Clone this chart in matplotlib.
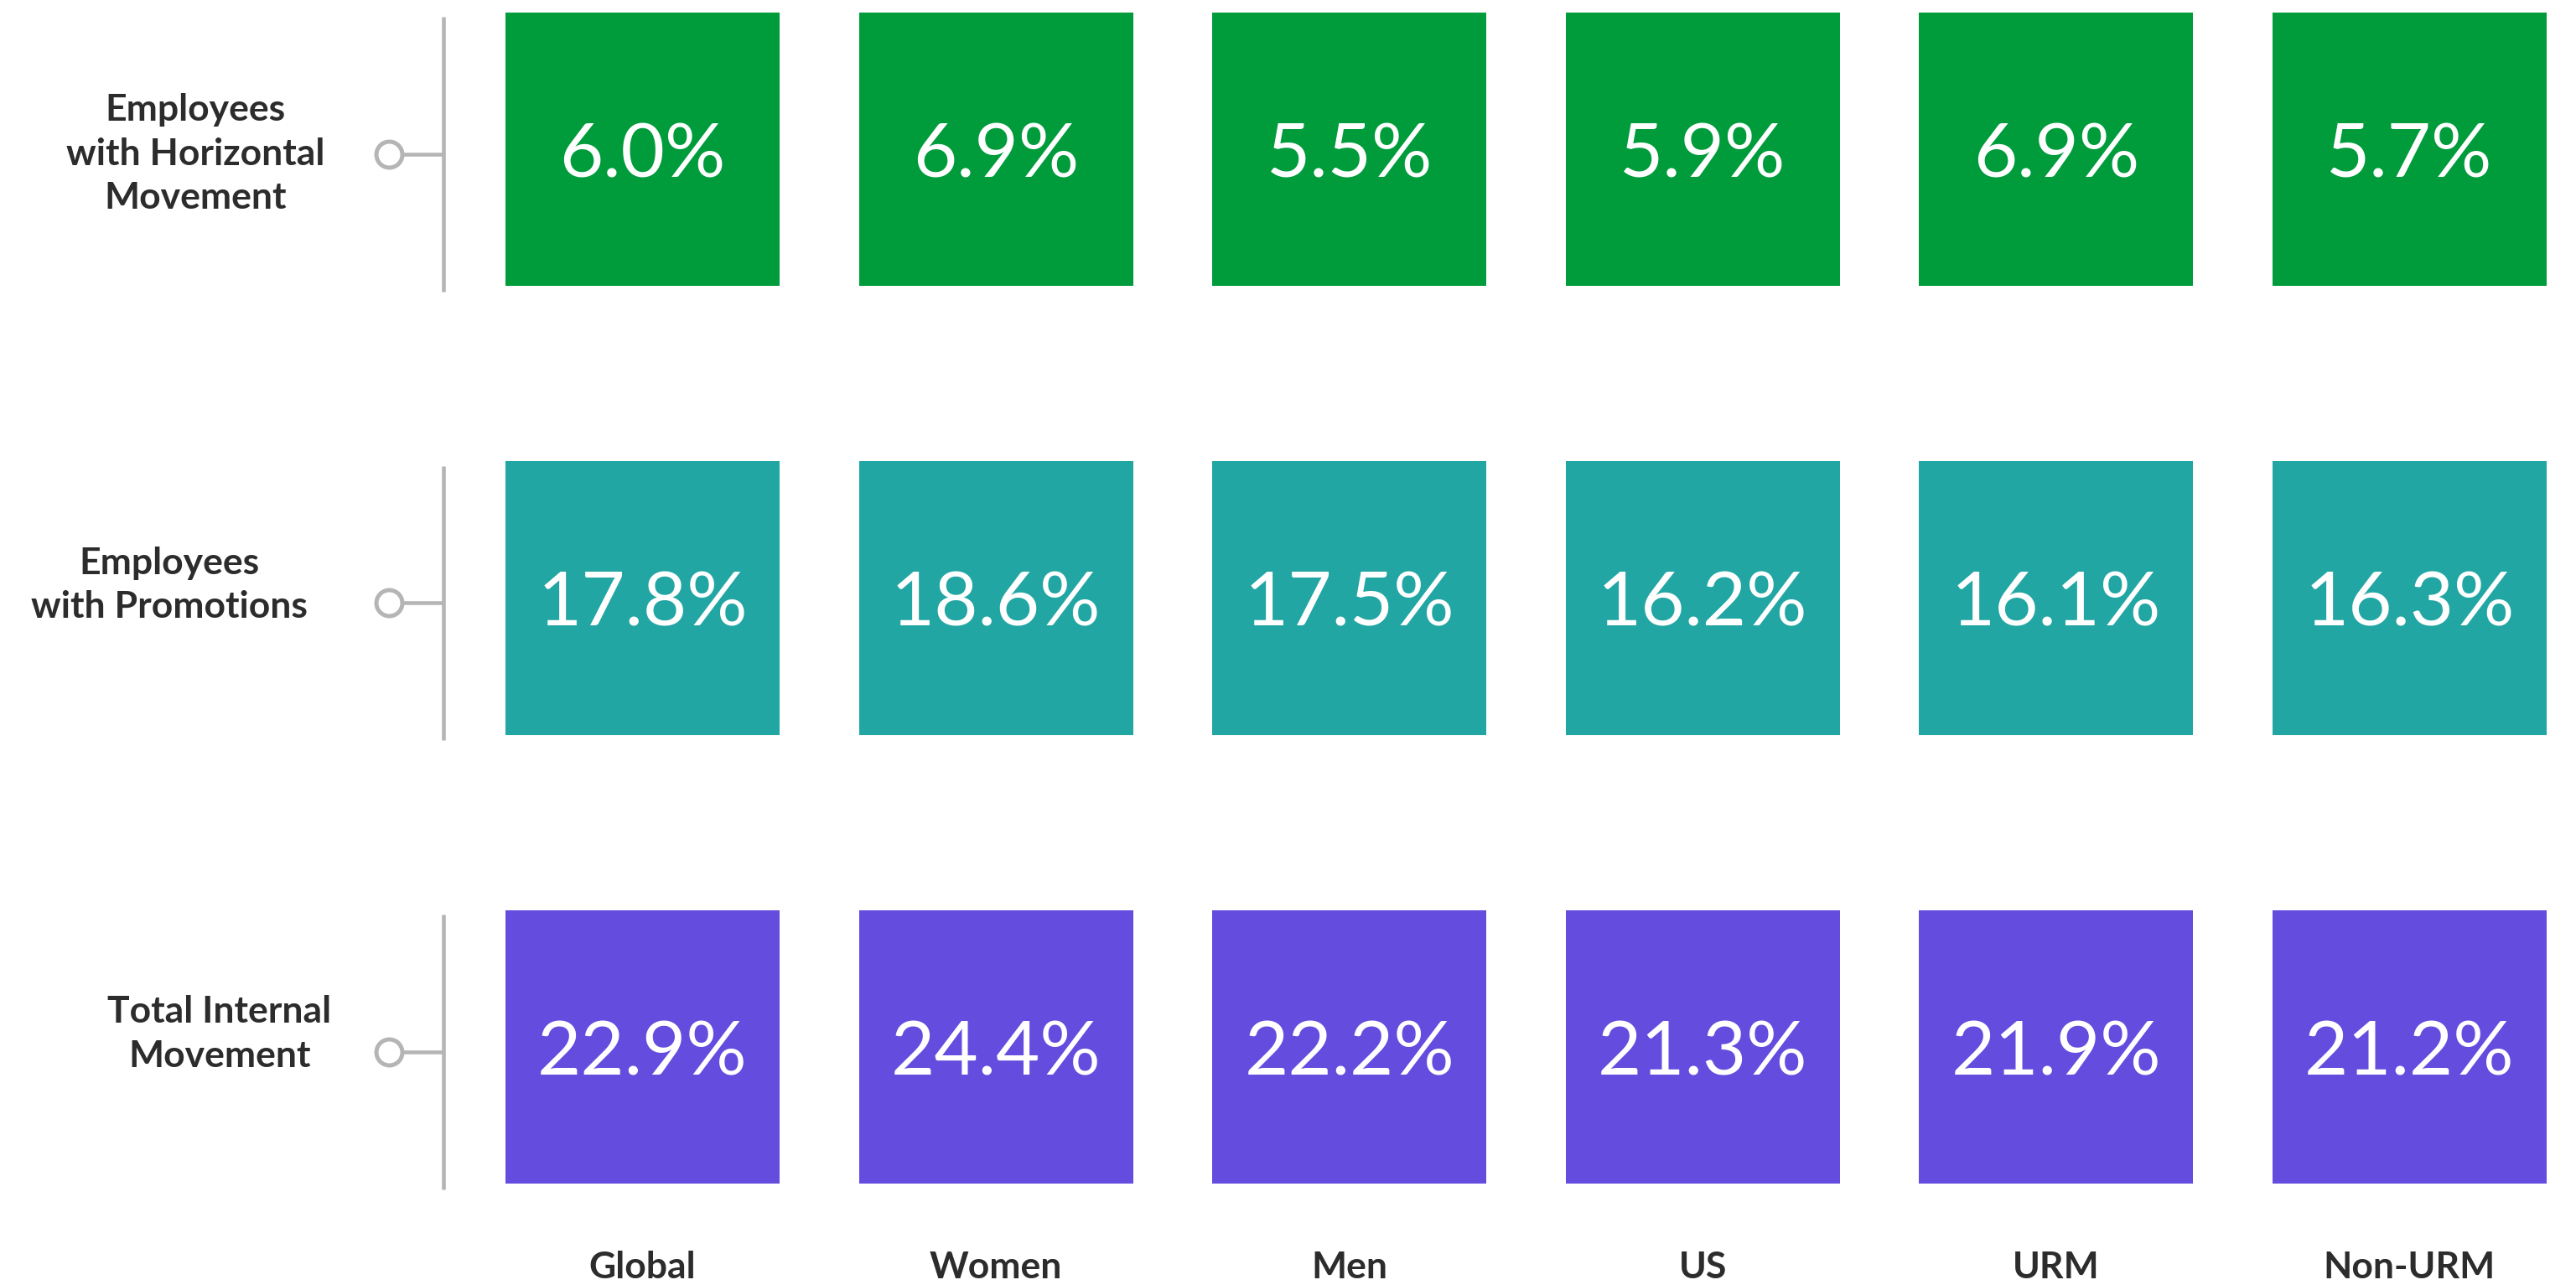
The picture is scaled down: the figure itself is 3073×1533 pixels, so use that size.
import matplotlib
matplotlib.use("Agg")
import matplotlib.pyplot as plt
import numpy as np

# ---- data ----
groups = ["Global", "Women", "Men", "US", "URM", "Non-URM"]
metrics = ["Employees\nwith Horizontal\nMovement",
           "Employees\nwith Promotions",
           "Total Internal\nMovement"]
horizontal = [6.0, 6.9, 5.5, 5.9, 6.9, 5.7]
promotions = [17.8, 18.6, 17.5, 16.2, 16.1, 16.3]
total_internal = [22.9, 24.4, 22.2, 21.3, 21.9, 21.2]

# ---- style / layout ----
row_colors = ["#009C3B", "#22A6A4", "#644CDF"]
line_gray = "#B5B5B5"
text_dark = "#2C2C2C"
label_x = [-1.265, -1.339, -1.197]     # row label centers (axis units)
label_dy = [0.0, -0.040, -0.040]

plt.rcParams['font.family'] = ['Lato', 'DejaVu Sans']

W, H, DPI = 3073, 1533, 100
fig = plt.figure(figsize=(W / DPI, H / DPI), dpi=DPI)
ax = fig.add_axes([0, 0, 1, 1])
ax.set_xlim(-1.818, 5.471)
ax.set_ylim(2.5303, -0.3324)
ax.axis("off")

rows = [horizontal, promotions, total_internal]
x = np.arange(len(groups))
box_w, box_h = 0.7756, 0.609

for j, (vals, color) in enumerate(zip(rows, row_colors)):
    ax.bar(x, box_h, bottom=j - box_h / 2, width=box_w, color=color,
           linewidth=0, align="center")
    for xi, v in zip(x, vals):
        ax.text(xi, j, f"{v:.1f}%", color="white", fontsize=65,
                fontweight="normal", ha="center", va="center_baseline")
    # bracket line, tick and circle
    yc = j + 0.011
    ax.plot([-0.5633, -0.5633], [j - 0.295, j + 0.317], color=line_gray,
            lw=3.3, solid_capstyle="butt")
    ax.plot([-0.7175, -0.5633], [yc, yc], color=line_gray, lw=3.3,
            solid_capstyle="butt")
    ax.plot([-0.7175], [yc], marker="o", markersize=22.3, mew=3.6,
            mec=line_gray, mfc="white", zorder=5)
    ax.text(label_x[j], yc + label_dy[j], metrics[j], ha="center",
            va="center", multialignment="center", fontsize=32,
            fontweight="bold", color=text_dark, linespacing=1.38)

for xi, g in zip(x, groups):
    ax.text(xi, 2.515, g, ha="center", va="baseline", fontsize=32,
            fontweight="bold", color=text_dark)

fig.savefig("out.png", dpi=DPI, facecolor="white")
